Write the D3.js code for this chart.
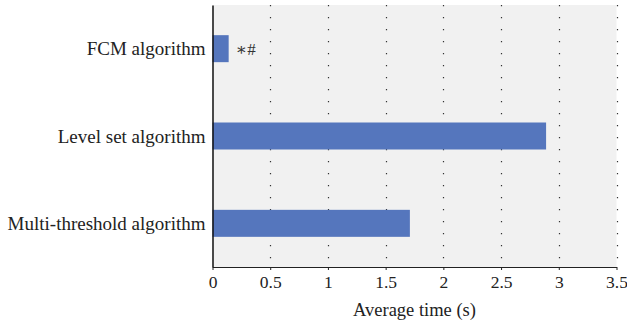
<!DOCTYPE html>
<html><head><meta charset="utf-8">
<script src="https://cdn.jsdelivr.net/npm/d3@7"></script>
<style>body{margin:0;background:#fff}svg{display:block}</style>
</head><body>
<script>
const categories = ["FCM algorithm", "Level set algorithm", "Multi-threshold algorithm"];
const values = [0.14, 2.89, 1.71];
const annotations = ["∗#", "", ""];
const xTicks = [0, 0.5, 1, 1.5, 2, 2.5, 3, 3.5];
const xTitle = "Average time (s)";

const W = 627, H = 326;
const m = {left: 212.5, right: 10.5, top: 5, bottom: 59};
const svg = d3.select("body").append("svg").attr("width", W).attr("height", H);
const font = "'Liberation Serif', 'DejaVu Serif', serif";

const x = d3.scaleLinear().domain([0, 3.5]).range([m.left, W - m.right]);
const y = d3.scalePoint().domain(categories).range([m.top, H - m.bottom]).padding(0.5);
const barH = 27;

svg.append("rect").attr("x", m.left).attr("y", m.top)
  .attr("width", W - m.right - m.left).attr("height", H - m.bottom - m.top)
  .attr("fill", "#f1f1f1");

svg.append("g").selectAll("line").data(xTicks.slice(1)).join("line")
  .attr("x1", d => Math.round(x(d)) + 0.5).attr("x2", d => Math.round(x(d)) + 0.5)
  .attr("y1", m.top).attr("y2", H - m.bottom)
  .attr("stroke", "#333").attr("stroke-width", 1.2).attr("stroke-dasharray", "1.2,10.8");

svg.append("g").selectAll("rect").data(values).join("rect")
  .attr("x", x(0)).attr("y", (d, i) => y(categories[i]) - barH / 2)
  .attr("width", d => x(d) - x(0)).attr("height", barH)
  .attr("fill", "#5576bd");

svg.append("g").selectAll("text").data(annotations).join("text")
  .attr("x", (d, i) => x(values[i]) + 7).attr("y", (d, i) => y(categories[i]))
  .attr("dy", "0.35em").attr("font-family", font).attr("font-size", 17).attr("fill", "#333")
  .text(d => d);

const xAxis = svg.append("g").attr("transform", `translate(0,${H - m.bottom})`)
  .call(d3.axisBottom(x).tickValues(xTicks).tickFormat(d3.format("")).tickSize(3).tickSizeOuter(0));
xAxis.select(".domain").attr("stroke", "#222");
xAxis.selectAll(".tick line").attr("stroke", "#222");
xAxis.selectAll("text").attr("font-family", font).attr("font-size", 17.5).attr("fill", "#222")
  .attr("y", 21).attr("dy", 0);

const yAxis = svg.append("g").attr("transform", `translate(${m.left},0)`)
  .call(d3.axisLeft(y).tickSize(0).tickPadding(7).tickSizeOuter(0));
yAxis.select(".domain").attr("stroke", "#111").attr("stroke-width", 1.5);
yAxis.selectAll("text").attr("font-family", font).attr("font-size", 19).attr("fill", "#222");

svg.append("text").attr("x", x(1.75)).attr("y", 316).attr("text-anchor", "middle")
  .attr("font-family", font).attr("font-size", 18.5).attr("fill", "#222").text(xTitle);
</script>
</body></html>
